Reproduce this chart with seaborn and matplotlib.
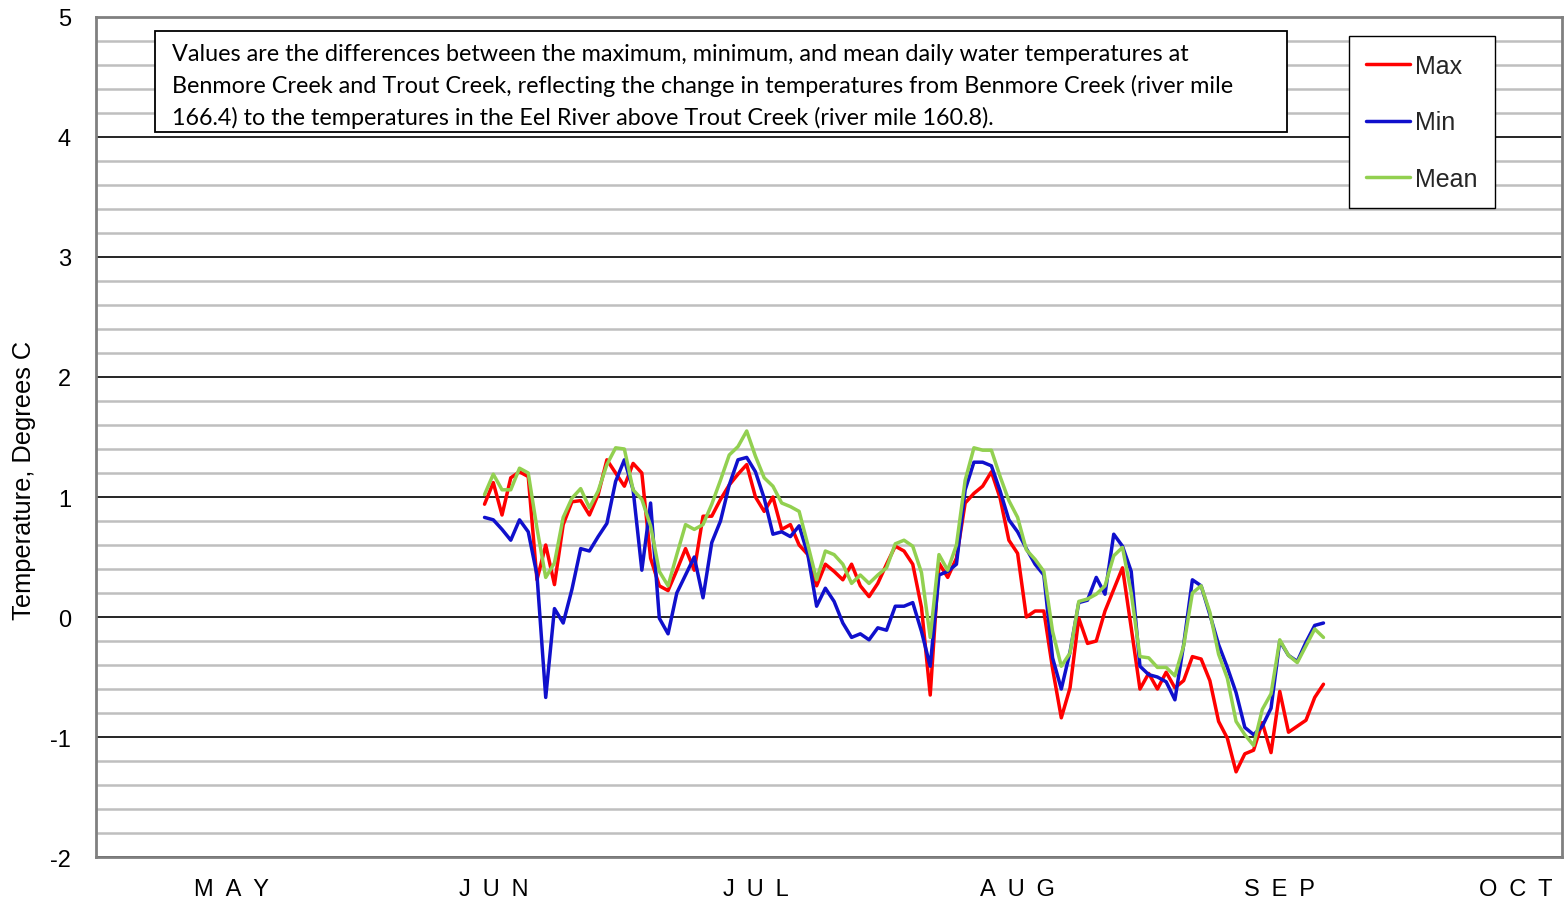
import matplotlib
matplotlib.use("Agg")
import matplotlib.pyplot as plt
import matplotlib.dates as mdates
import matplotlib.ticker as mticker
from matplotlib.patches import Rectangle
import pandas as pd
import seaborn as sns

# daily differences Benmore Creek - Trout Creek, Jun 14 .. Sep 18
first_day = "2009-06-14"

max_diff = [0.94, 1.12, 0.85, 1.16, 1.21, 1.17, 0.31, 0.60, 0.27, 0.77,
            0.96, 0.97, 0.85, 1.02, 1.31, 1.20, 1.09, 1.28, 1.20, 0.49,
            0.26, 0.22, 0.39, 0.57, 0.39, 0.84, 0.84, 0.98, 1.10, 1.19,
            1.27, 1.00, 0.88, 1.00, 0.73, 0.77, 0.60, 0.52, 0.26, 0.44,
            0.38, 0.31, 0.44, 0.26, 0.17, 0.28, 0.44, 0.59, 0.55, 0.44,
            0.08, -0.65, 0.45, 0.33, 0.49, 0.95, 1.03, 1.09, 1.21, 0.99,
            0.64, 0.53, 0.00, 0.05, 0.05, -0.43, -0.84, -0.59, -0.01, -0.22,
            -0.20, 0.05, 0.23, 0.41, -0.09, -0.60, -0.47, -0.60, -0.46, -0.59,
            -0.53, -0.33, -0.35, -0.53, -0.87, -1.01, -1.29, -1.14, -1.11, -0.88,
            -1.13, -0.62, -0.96, -0.91, -0.86, -0.67, -0.56]

min_diff = [0.83, 0.81, 0.73, 0.64, 0.81, 0.71, 0.35, -0.67, 0.07, -0.05,
            0.23, 0.57, 0.55, 0.67, 0.78, 1.13, 1.31, 1.06, 0.39, 0.95,
            -0.01, -0.14, 0.20, 0.35, 0.50, 0.16, 0.62, 0.80, 1.10, 1.31,
            1.33, 1.21, 0.99, 0.69, 0.71, 0.67, 0.76, 0.52, 0.09, 0.24,
            0.13, -0.05, -0.17, -0.14, -0.19, -0.09, -0.11, 0.09, 0.09, 0.12,
            -0.12, -0.41, 0.35, 0.38, 0.44, 1.06, 1.29, 1.29, 1.26, 1.05,
            0.81, 0.71, 0.57, 0.44, 0.35, -0.34, -0.60, -0.29, 0.12, 0.14,
            0.33, 0.19, 0.69, 0.59, 0.38, -0.41, -0.48, -0.50, -0.54, -0.69,
            -0.23, 0.31, 0.26, 0.02, -0.23, -0.42, -0.63, -0.92, -0.98, -0.91,
            -0.76, -0.20, -0.32, -0.37, -0.21, -0.07, -0.05]

mean_diff = [1.02, 1.19, 1.06, 1.06, 1.24, 1.20, 0.74, 0.33, 0.45, 0.83,
             0.99, 1.07, 0.91, 1.05, 1.27, 1.41, 1.40, 1.06, 0.98, 0.76,
             0.38, 0.26, 0.52, 0.77, 0.73, 0.77, 0.94, 1.14, 1.35, 1.42,
             1.55, 1.34, 1.16, 1.09, 0.95, 0.92, 0.88, 0.60, 0.31, 0.55,
             0.52, 0.44, 0.28, 0.35, 0.28, 0.35, 0.41, 0.61, 0.64, 0.59,
             0.37, -0.17, 0.52, 0.39, 0.60, 1.14, 1.41, 1.39, 1.39, 1.17,
             0.97, 0.83, 0.56, 0.48, 0.38, -0.12, -0.41, -0.30, 0.13, 0.15,
             0.19, 0.26, 0.51, 0.58, 0.20, -0.33, -0.34, -0.42, -0.42, -0.49,
             -0.24, 0.20, 0.26, 0.04, -0.31, -0.51, -0.87, -0.98, -1.07, -0.77,
             -0.64, -0.19, -0.32, -0.38, -0.24, -0.10, -0.17]

series_names = ["Max", "Min", "Mean"]
series_colors = ["#FF0000", "#1010CC", "#92D050"]

months = ["MAY", "JUN", "JUL", "AUG", "SEP", "OCT"]
label_dates = ["2009-05-16", "2009-06-15", "2009-07-15", "2009-08-14",
               "2009-09-13", "2009-10-10"]

note = ("Values are the differences between the maximum, minimum, and mean daily water temperatures at\n"
        "Benmore Creek and Trout Creek, reflecting the change in temperatures from Benmore Creek (river mile\n"
        "166.4) to the temperatures in the Eel River above Trout Creek (river mile 160.8).")

dates = pd.date_range(first_day, periods=len(max_diff), freq="D")
df = pd.DataFrame({"date": dates, "Max": max_diff, "Min": min_diff, "Mean": mean_diff})
long_df = df.melt(id_vars="date", var_name="series", value_name="diff")

sns.set_theme(style="white")
plt.rcParams["font.family"] = ["Liberation Sans", "DejaVu Sans"]
plt.rcParams["axes.unicode_minus"] = False

fig = plt.figure(figsize=(15.64, 9.03), dpi=100)
ax = fig.add_axes([0.0614, 0.0498, 0.9373, 0.9303])

sns.lineplot(data=long_df, x="date", y="diff", hue="series", hue_order=series_names,
             palette=series_colors, linewidth=2.5, ax=ax, legend=False, zorder=4)

# y axis
ax.set_ylim(-2, 5)
ax.yaxis.set_major_locator(mticker.MultipleLocator(1))
ax.yaxis.set_minor_locator(mticker.MultipleLocator(0.2))
ax.yaxis.grid(True, which="minor", color="#BFBFBF", linewidth=1.8)
ax.yaxis.grid(True, which="major", color="black", linewidth=1.2)
ax.set_axisbelow(True)
ax.tick_params(axis="y", which="both", length=0, pad=18, labelsize=17, labelcolor="black")
ax.set_ylabel("Temperature, Degrees C", fontsize=18.3, color="black")
ax.yaxis.set_label_coords(-0.041, 0.449)

# x axis: month starts as ticks, spaced-out names in between
ax.set_xlim(pd.Timestamp("2009-04-30 13:00"), pd.Timestamp("2009-10-15 07:00"))
ax.xaxis.set_major_locator(mdates.MonthLocator())
ax.xaxis.set_major_formatter(mticker.NullFormatter())
ax.xaxis.set_minor_locator(mticker.FixedLocator(mdates.date2num(pd.to_datetime(label_dates))))
ax.xaxis.set_minor_formatter(mticker.FixedFormatter(["\u2002".join(m) for m in months]))
ax.tick_params(axis="x", which="major", direction="inout", length=16, width=1.5, color="black")
ax.tick_params(axis="x", which="minor", length=0, pad=15, labelsize=17, labelcolor="black")
ax.set_xlabel("")

for sp in ax.spines.values():
    sp.set_color("#808080")
    sp.set_linewidth(2)

# note box
ax.add_patch(Rectangle((0.0402, 0.863), 0.7722, 0.1203, transform=ax.transAxes,
                       facecolor="white", edgecolor="black", linewidth=1.3, zorder=5))
ax.text(0.0518, 0.969, note, transform=ax.transAxes, ha="left", va="top",
        fontsize=16.85, family=["Lato", "DejaVu Sans"], linespacing=1.55, color="black", zorder=6)

# legend
for line, name in zip(ax.get_lines(), series_names):
    line.set_label(name)
leg = ax.legend(loc="upper left", bbox_to_anchor=(0.8547, 0.977), borderaxespad=0,
                frameon=True, fancybox=False, edgecolor="black", framealpha=1,
                fontsize=18, handlelength=1.75, handletextpad=0.2, labelspacing=1.3,
                borderpad=0.7)
leg.get_frame().set_linewidth(1.0)
leg.set_zorder(6)

fig.savefig("out.png", dpi=100)
